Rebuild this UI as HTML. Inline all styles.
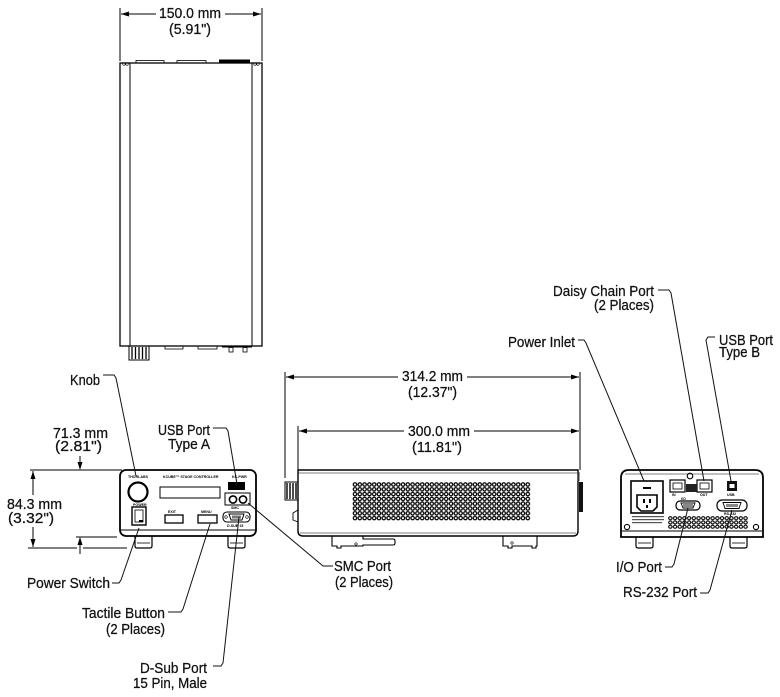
<!DOCTYPE html>
<html><head><meta charset="utf-8"><style>
html,body{margin:0;padding:0;background:#fff;}
svg{display:block}
text{font-family:"Liberation Sans",Arial,sans-serif;font-size:14.5px;fill:#111;stroke:#111;stroke-width:0.25px}
.t{font-size:3.6px;font-weight:bold;fill:#000;stroke:none}
</style></head><body>
<svg width="780" height="697" viewBox="0 0 780 697" xmlns="http://www.w3.org/2000/svg">
<defs>
<pattern id="vent" patternUnits="userSpaceOnUse" x="352.6" y="482.1" width="4.8" height="4.8">
<rect width="4.8" height="4.8" fill="#fff"/>
<circle cx="2.4" cy="2.4" r="1.7" fill="#fff" stroke="#000" stroke-width="1.25"/>
</pattern>
<pattern id="vent2" patternUnits="userSpaceOnUse" x="668" y="516" width="4.7" height="4.3">
<rect width="4.7" height="4.3" fill="#fff"/>
<ellipse cx="2.35" cy="2.15" rx="1.7" ry="1.5" fill="#fff" stroke="#000" stroke-width="1.1"/>
</pattern>
</defs>

<g fill="none" stroke="#000" stroke-width="1">
<!-- ===== TOP VIEW ===== -->
<line x1="120" y1="8" x2="120" y2="61"/>
<line x1="262" y1="8" x2="262" y2="61"/>
<line x1="121" y1="14" x2="156" y2="14"/>
<line x1="225" y1="14" x2="261" y2="14"/>
<rect x="120" y="63" width="142" height="283" stroke-width="1.3"/>
<line x1="130" y1="63" x2="130" y2="346"/>
<line x1="252" y1="63" x2="252" y2="346"/>
<rect x="136" y="60.5" width="28" height="2.5" stroke-width="0.8"/>
<rect x="177" y="60.5" width="29" height="2.5" stroke-width="0.8"/>
<circle cx="124" cy="64" r="1.3" stroke-width="0.6"/>
<circle cx="127" cy="64" r="1.3" stroke-width="0.6"/>
<circle cx="255" cy="64" r="1.3" stroke-width="0.6"/>
<circle cx="258" cy="64" r="1.3" stroke-width="0.6"/>
<rect x="165" y="346" width="18" height="3" stroke-width="0.8"/>
<rect x="198" y="346" width="19" height="3" stroke-width="0.8"/>
<line x1="222" y1="347" x2="252" y2="347"/>
<rect x="229" y="347.5" width="4" height="4.5" stroke-width="0.8"/>
<rect x="243" y="347.5" width="4" height="4.5" stroke-width="0.8"/>
<rect x="129" y="346" width="20" height="14" stroke-width="1"/>
</g>
<rect x="219" y="59.5" width="31" height="3.5" fill="#000"/>
<g stroke="#000" stroke-width="1.3">
<line x1="132" y1="347" x2="132" y2="359"/><line x1="135.5" y1="347" x2="135.5" y2="359"/>
<line x1="139" y1="347" x2="139" y2="359"/><line x1="142.5" y1="347" x2="142.5" y2="359"/>
<line x1="146" y1="347" x2="146" y2="359"/>
</g>
<polygon points="121,14 129,11.5 129,16.5" fill="#000"/>
<polygon points="261,14 253,11.5 253,16.5" fill="#000"/>
<text x="159" y="18" textLength="62" lengthAdjust="spacingAndGlyphs">150.0 mm</text>
<text x="169" y="34" textLength="42" lengthAdjust="spacingAndGlyphs">(5.91")</text>

<!-- ===== FRONT VIEW ===== -->
<g fill="none" stroke="#000" stroke-width="1">
<line x1="30" y1="470" x2="122" y2="470"/>
<line x1="76" y1="537" x2="117" y2="537"/>
<line x1="28" y1="548" x2="77" y2="548"/>
<line x1="83" y1="548" x2="127" y2="548"/>
<line x1="33" y1="471" x2="33" y2="495"/>
<line x1="33" y1="527" x2="33" y2="547"/>
<line x1="80" y1="456" x2="80" y2="465"/>
<line x1="80" y1="542" x2="80" y2="554"/>
</g>
<polygon points="33,471 30.5,479 35.5,479" fill="#000"/>
<polygon points="33,547 30.5,539 35.5,539" fill="#000"/>
<polygon points="80,470 77.5,462 82.5,462" fill="#000"/>
<polygon points="80,537 77.5,545 82.5,545" fill="#000"/>
<text x="53" y="438" textLength="55" lengthAdjust="spacingAndGlyphs">71.3 mm</text>
<text x="55" y="451" textLength="47" lengthAdjust="spacingAndGlyphs">(2.81")</text>
<text x="7" y="509" textLength="55" lengthAdjust="spacingAndGlyphs">84.3 mm</text>
<text x="8" y="523" textLength="46" lengthAdjust="spacingAndGlyphs">(3.32")</text>

<g fill="none" stroke="#000">
<rect x="120" y="470" width="136" height="66" rx="6" stroke-width="1.8"/>
<line x1="121" y1="530" x2="255" y2="530" stroke-width="1"/>
<path d="M135 536 V546 Q135 548 137 548 H150 Q152 548 152 546 V536" stroke-width="1.2"/>
<line x1="137" y1="543" x2="150" y2="543" stroke-width="0.8"/>
<path d="M228 536 V546 Q228 548 230 548 H243 Q245 548 245 546 V536" stroke-width="1.2"/>
<line x1="230" y1="543" x2="243" y2="543" stroke-width="0.8"/>
<circle cx="138" cy="492" r="9.5" stroke-width="2.2"/>
<rect x="160" y="487" width="60" height="11" stroke-width="1"/>
<rect x="132" y="507" width="14" height="18" stroke-width="1.4"/>
<rect x="135" y="510" width="8" height="12" stroke-width="0.8"/>
<rect x="165" y="515" width="18" height="8" stroke-width="1.3"/>
<rect x="198" y="515" width="19" height="8" stroke-width="1.3"/>
<rect x="225" y="493" width="25" height="12" stroke-width="1"/>
<circle cx="233" cy="499.5" r="3.6" stroke-width="1.6"/>
<circle cx="243" cy="499.5" r="3.6" stroke-width="1.6"/>
<rect x="223" y="512" width="27" height="10" rx="4" stroke-width="1.1"/>
<path d="M229 514 H244 L242 520 H231 Z" stroke-width="1"/>
<circle cx="226" cy="517" r="1.3" stroke-width="0.6"/>
<circle cx="247" cy="517" r="1.3" stroke-width="0.6"/>
</g>
<rect x="228" y="482" width="17" height="8" fill="#000"/>
<rect x="139" y="520" width="4" height="2" fill="#000"/>
<rect x="232" y="515.5" width="9" height="3" fill="#777"/>
<text class="t" x="128" y="478">THORLABS</text>
<text class="t" x="163" y="478">KCUBE™ STAGE CONTROLLER</text>
<text class="t" x="232" y="478">KC-PWR</text>
<text class="t" x="133" y="506">POWER</text>
<text class="t" x="168" y="513">EXIT</text>
<text class="t" x="201" y="513">MENU</text>
<text class="t" x="231" y="509">SMC</text>
<text class="t" x="227" y="527">D-SUB 15</text>

<text x="70" y="385" textLength="30" lengthAdjust="spacingAndGlyphs">Knob</text>
<text x="158" y="435" textLength="52" lengthAdjust="spacingAndGlyphs">USB Port</text>
<text x="168" y="449" textLength="42" lengthAdjust="spacingAndGlyphs">Type A</text>
<text x="27" y="588" textLength="83" lengthAdjust="spacingAndGlyphs">Power Switch</text>
<text x="82" y="618" textLength="83" lengthAdjust="spacingAndGlyphs">Tactile Button</text>
<text x="106" y="634" textLength="59" lengthAdjust="spacingAndGlyphs">(2 Places)</text>
<text x="140" y="673" textLength="67" lengthAdjust="spacingAndGlyphs">D-Sub Port</text>
<text x="133" y="688" textLength="74" lengthAdjust="spacingAndGlyphs">15 Pin, Male</text>
<text x="334" y="571" textLength="57" lengthAdjust="spacingAndGlyphs">SMC Port</text>
<text x="335" y="587" textLength="58" lengthAdjust="spacingAndGlyphs">(2 Places)</text>

<g fill="none" stroke="#111" stroke-width="1">
<polyline points="103,375 114,375 116,378 136,476"/>
<polyline points="213,428 226,428 228,431 237,484"/>
<polyline points="112,583 119,583 121,580 139,528"/>
<polyline points="168,612 181,612 183,609 210,524"/>
<polyline points="213,666 221,666 223,663 239,517"/>
<polyline points="333,566 323,566 248,503"/>
</g>

<!-- ===== SIDE VIEW ===== -->
<g fill="none" stroke="#000" stroke-width="1">
<line x1="285" y1="372" x2="285" y2="478"/>
<line x1="580" y1="372" x2="580" y2="470"/>
<line x1="298" y1="426" x2="298" y2="470"/>
<line x1="286" y1="377" x2="398" y2="377"/>
<line x1="467" y1="377" x2="579" y2="377"/>
<line x1="299" y1="431" x2="404" y2="431"/>
<line x1="474" y1="431" x2="579" y2="431"/>
<path d="M298 470 H578 V531 Q578 536 573 536 H303 Q298 536 298 531 Z" stroke-width="1.4"/>
<line x1="298" y1="473" x2="578" y2="473" stroke-width="0.6"/>
<line x1="300" y1="533" x2="576" y2="533" stroke-width="0.6"/>
<path d="M332 536 V546 H337 V548 H341 V546 H363 V545 H393 Q395 545 395 543 V541 Q395 539 393 539 H363 V536" stroke-width="1.1"/>
<circle cx="356" cy="544" r="1.2" stroke-width="0.6"/>
<path d="M503 536 V546 H508 V548 H512 V546 H532 V548 H536 V546 H537 V536" stroke-width="1.1"/>
<circle cx="512" cy="543" r="1.2" stroke-width="0.6"/>
<rect x="285" y="482" width="13" height="18" stroke-width="1"/>
<path d="M293 513 L298 510 V522 L293 520 Z" stroke-width="0.9"/>
</g>
<g stroke="#000" stroke-width="1.4">
<line x1="287" y1="483" x2="287" y2="499"/><line x1="290" y1="483" x2="290" y2="499"/>
<line x1="293" y1="483" x2="293" y2="499"/><line x1="296" y1="483" x2="296" y2="499"/>
</g>
<rect x="579" y="482" width="4" height="30" fill="#111"/>
<rect x="577.5" y="472" width="2" height="9" fill="#333"/>
<rect x="352.6" y="482.1" width="177.6" height="38.4" fill="url(#vent)"/>
<polygon points="286,377 294,374.5 294,379.5" fill="#000"/>
<polygon points="579,377 571,374.5 571,379.5" fill="#000"/>
<polygon points="299,431 307,428.5 307,433.5" fill="#000"/>
<polygon points="579,431 571,428.5 571,433.5" fill="#000"/>
<text x="402" y="381" textLength="61" lengthAdjust="spacingAndGlyphs">314.2 mm</text>
<text x="408" y="397" textLength="49" lengthAdjust="spacingAndGlyphs">(12.37")</text>
<text x="408" y="436" textLength="62" lengthAdjust="spacingAndGlyphs">300.0 mm</text>
<text x="412" y="452" textLength="50" lengthAdjust="spacingAndGlyphs">(11.81")</text>

<!-- ===== REAR VIEW ===== -->
<g fill="none" stroke="#000">
<path d="M621 537 V478 Q621 470 629 470 H755 Q763 470 763 478 V537 Z" stroke-width="1.8"/>
<line x1="622" y1="531" x2="762" y2="531" stroke-width="1"/>
<line x1="625" y1="474" x2="759" y2="474" stroke-width="0.5"/>
<path d="M636 537 V546 Q636 548 638 548 H651 Q653 548 653 546 V537" stroke-width="1.2"/>
<line x1="638" y1="543" x2="651" y2="543" stroke-width="0.8"/>
<path d="M730 537 V546 Q730 548 732 548 H745 Q747 548 747 546 V537" stroke-width="1.2"/>
<line x1="732" y1="543" x2="745" y2="543" stroke-width="0.8"/>
<rect x="631" y="481" width="32" height="32" stroke-width="1.6"/>
<path d="M637 495 H657 V507 L653 511 H641 L637 507 Z" stroke-width="1.6"/>
<rect x="670" y="480" width="15" height="12" stroke-width="1.2"/>
<rect x="697" y="480" width="15" height="12" stroke-width="1.2"/>
<rect x="673" y="483" width="9" height="6" stroke-width="0.8"/>
<rect x="700" y="483" width="9" height="6" stroke-width="0.8"/>
<circle cx="690" cy="476" r="2.8" stroke-width="1.1"/>
<rect x="676" y="501" width="24" height="9" rx="4" stroke-width="1.2"/>
<path d="M681 503 H695 L693 508 H683 Z" stroke-width="0.9"/>
<rect x="717" y="500" width="30" height="11" rx="5" stroke-width="1.2"/>
<path d="M723 502.5 H741 L739 508.5 H725 Z" stroke-width="0.9"/>
<circle cx="627" cy="527" r="2.6" stroke-width="1.1"/>
<circle cx="756" cy="527" r="2.6" stroke-width="1.1"/>
</g>
<rect x="643" y="487" width="8" height="2" fill="#000"/>
<rect x="643" y="499" width="2" height="4" fill="#000"/>
<rect x="649" y="499" width="2" height="4" fill="#000"/>
<rect x="646" y="505" width="2" height="3" fill="#000"/>
<rect x="632" y="516" width="32" height="1.2" fill="#555"/>
<rect x="632" y="519" width="32" height="1.2" fill="#555"/>
<rect x="632" y="522" width="30" height="1.2" fill="#555"/>
<rect x="686" y="484" width="11" height="8" fill="#222"/>
<rect x="727" y="481" width="10" height="10" fill="#111"/>
<rect x="729.5" y="484" width="5" height="4" fill="#fff"/>
<rect x="683" y="504" width="10" height="3" fill="#888"/>
<rect x="726" y="504" width="12" height="3" fill="#888"/>
<rect x="668" y="516" width="80" height="12.9" fill="url(#vent2)"/>
<text class="t" x="672" y="496">IN</text>
<text class="t" x="700" y="496">OUT</text>
<text class="t" x="727" y="496">USB</text>
<text class="t" x="681" y="500">I/O</text>
<text class="t" x="724" y="515">RS-232</text>

<text x="553" y="296" textLength="101" lengthAdjust="spacingAndGlyphs">Daisy Chain Port</text>
<text x="594" y="310" textLength="60" lengthAdjust="spacingAndGlyphs">(2 Places)</text>
<text x="508" y="347" textLength="67" lengthAdjust="spacingAndGlyphs">Power Inlet</text>
<text x="719" y="345" textLength="54" lengthAdjust="spacingAndGlyphs">USB Port</text>
<text x="719" y="357" textLength="41" lengthAdjust="spacingAndGlyphs">Type B</text>
<text x="616" y="572" textLength="46" lengthAdjust="spacingAndGlyphs">I/O Port</text>
<text x="623" y="597" textLength="74" lengthAdjust="spacingAndGlyphs">RS-232 Port</text>
<g fill="none" stroke="#111" stroke-width="1">
<polyline points="658,290 669,290 671,293 704,481"/>
<polyline points="578,340 584,340 586,343 644,481"/>
<polyline points="715,337 708,337 706,340 731,481"/>
<polyline points="665,567 672,567 674,564 688,508"/>
<polyline points="700,593 708,593 710,590 732,510"/>
</g>
</svg>
</body></html>
